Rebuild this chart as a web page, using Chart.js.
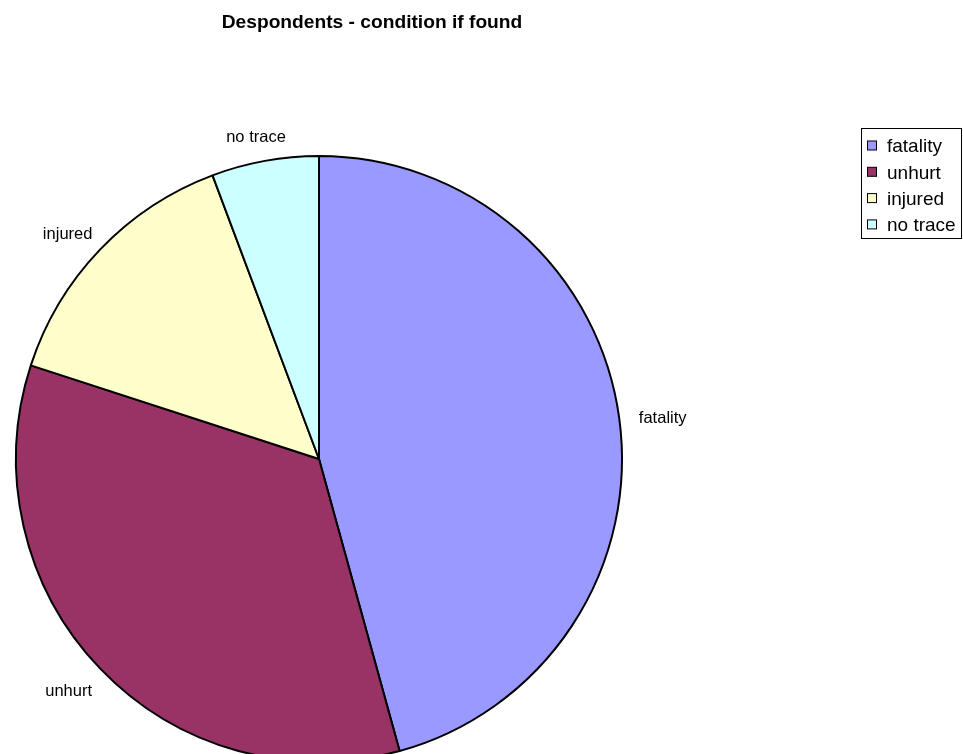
<!DOCTYPE html>
<html>
<head>
<meta charset="utf-8">
<title>Despondents - condition if found</title>
<script src="https://cdn.jsdelivr.net/npm/chart.js@4/dist/chart.umd.min.js"></script>
<style>
  html, body { margin: 0; padding: 0; background: #ffffff; overflow: hidden; }
  canvas { display: block; }
</style>
</head>
<body>
<canvas id="pie" width="963" height="800"></canvas>
<script>
// Outcome of each search, by condition of the person when found
const categories = ['fatality', 'unhurt', 'injured', 'no trace'];
const counts = [16, 12, 5, 2];
const sliceColors = ['#9999FF', '#993366', '#FFFFCC', '#CCFFFF'];
const chartTitle = 'Despondents - condition if found';

const FONT = '"Liberation Sans", Arial, Helvetica, sans-serif';

// Title, outside slice labels and the boxed legend on the right
const decorations = {
  id: 'decorations',
  afterDraw(chart) {
    const ctx = chart.ctx;
    ctx.save();

    // title
    ctx.fillStyle = '#000';
    ctx.font = 'bold 19.2px ' + FONT;
    ctx.textAlign = 'center';
    ctx.textBaseline = 'middle';
    ctx.fillText(chartTitle, 372, 23);

    // category labels just outside each slice
    const meta = chart.getDatasetMeta(0);
    ctx.font = '16.5px ' + FONT;
    ctx.textAlign = 'center';
    ctx.textBaseline = 'middle';
    meta.data.forEach((arc, i) => {
      const p = arc.getProps(['x', 'y', 'startAngle', 'endAngle', 'outerRadius'], true);
      const mid = (p.startAngle + p.endAngle) / 2;
      const ux = Math.cos(mid), uy = Math.sin(mid);
      const text = chart.data.labels[i];
      const w = ctx.measureText(text).width;
      const h = 16;
      const d = p.outerRadius + 20;
      const cx = p.x + ux * d + ux * w / 2;
      const cy = p.y + uy * d + uy * h / 2 + 4;
      ctx.fillText(text, cx, cy);
    });

    // legend
    const lx = 861.5, ly = 128.5, lw = 100, lh = 110;
    ctx.fillStyle = '#fff';
    ctx.fillRect(lx, ly, lw, lh);
    ctx.strokeStyle = '#000';
    ctx.lineWidth = 1;
    ctx.strokeRect(lx, ly, lw, lh);
    ctx.font = '19px ' + FONT;
    ctx.textAlign = 'left';
    const colors = chart.data.datasets[0].backgroundColor;
    chart.data.labels.forEach((lab, i) => {
      const y = 146 + i * 26.3;
      ctx.fillStyle = colors[i];
      ctx.fillRect(867.5, y - 5, 9, 9);
      ctx.strokeStyle = '#000';
      ctx.strokeRect(867.5, y - 5, 9, 9);
      ctx.fillStyle = '#000';
      ctx.fillText(lab, 887, y + 1);
    });

    ctx.restore();
  }
};

new Chart(document.getElementById('pie'), {
  type: 'pie',
  data: {
    labels: categories,
    datasets: [{
      data: counts,
      backgroundColor: sliceColors,
      borderColor: '#000000',
      borderWidth: 2
    }]
  },
  options: {
    responsive: false,
    animation: false,
    events: [],
    layout: { padding: { left: 15, right: 340, top: 155, bottom: 37 } },
    plugins: {
      legend: { display: false },
      title: { display: false },
      tooltip: { enabled: false }
    }
  },
  plugins: [decorations]
});
</script>
</body>
</html>
